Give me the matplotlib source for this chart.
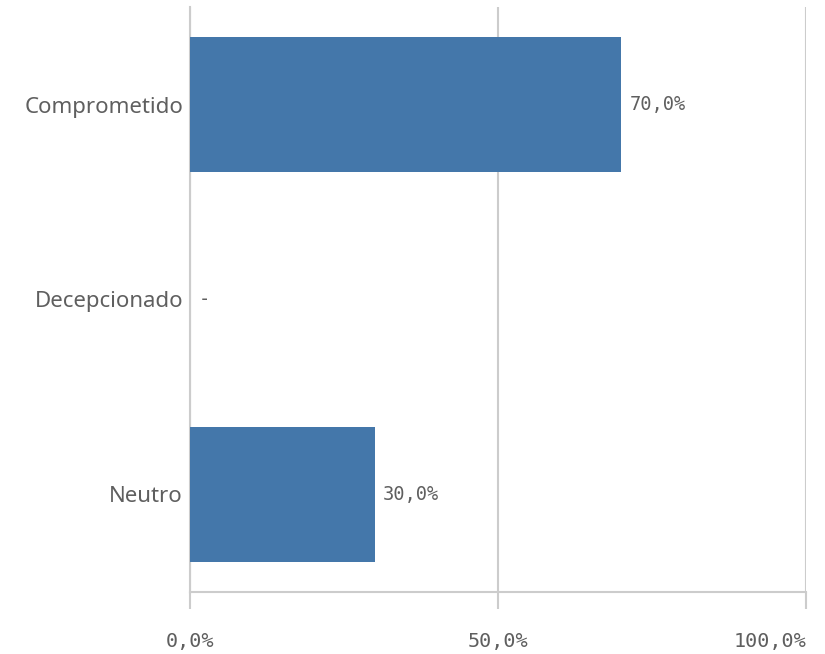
import matplotlib.pyplot as plt
import numpy as np

categories = ["Neutro", "Decepcionado", "Comprometido"]
values = [30.0, 0.0, 70.0]
xticks = [0, 50, 100]
xtick_labels = ["0,0%", "50,0%", "100,0%"]

grid_col = "#cccccc"
text_col = "#5f5f5f"

fig = plt.figure(figsize=(8.25, 6.54), dpi=100)
ax = fig.add_axes([190 / 825, 1 - 592 / 654, 616 / 825, 585 / 654])

y = np.arange(len(categories))
bars = ax.barh(y, values, height=0.69, color="#4477aa", zorder=3)

labels = ["-" if v == 0 else f"{v:.1f}%".replace(".", ",") for v in values]
ax.bar_label(bars, labels=labels, padding=6, fontsize=13.5,
             family="DejaVu Sans Mono", color=text_col)

ax.set_xlim(0, 100)
ax.set_ylim(-0.5, 2.5)
ax.set_yticks(y)
ax.set_yticklabels(categories, fontsize=16, family="Noto Sans", color=text_col)
ax.set_xticks(xticks)
ax.set_xticklabels(xtick_labels, fontsize=14.5, family="DejaVu Sans Mono", color=text_col)
ax.get_xticklabels()[-1].set_ha("right")
ax.tick_params(axis="y", length=0, pad=5)
ax.tick_params(axis="x", length=12, width=1.5, color=grid_col, pad=17)

ax.grid(axis="x", color=grid_col, linewidth=1.5, zorder=0)
for s in ["top", "right"]:
    ax.spines[s].set_visible(False)
for s in ["left", "bottom"]:
    ax.spines[s].set_color(grid_col)
    ax.spines[s].set_linewidth(1.5)

fig.savefig("out.png", dpi=100)
